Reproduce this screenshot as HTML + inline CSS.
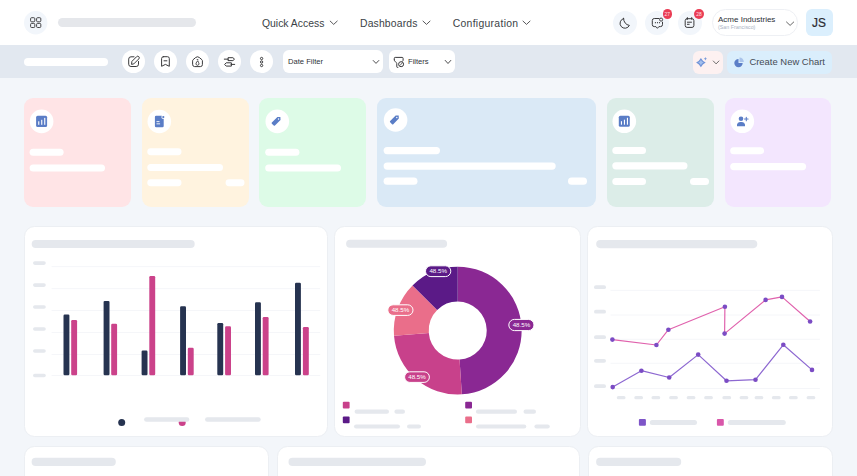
<!DOCTYPE html>
<html><head><meta charset="utf-8">
<style>
*{margin:0;padding:0;box-sizing:border-box}
html,body{width:857px;height:476px;overflow:hidden;background:#f3f6fa;font-family:"Liberation Sans",sans-serif}
.a{position:absolute}
.hdr{left:0;top:0;width:857px;height:45px;background:#fff}
.tb{left:0;top:45px;width:857px;height:33px;background:#e2e8f0}
.pill{position:absolute;border-radius:10px}
.g{background:#e5e7eb}
.w{background:#fff}
.circ{position:absolute;border-radius:50%}
.nav{position:absolute;top:16.8px;font-size:10.4px;color:#3b3f46;white-space:nowrap;line-height:14px}
.card{position:absolute;top:97.5px;height:109.5px;border-radius:9px}
.ccard{position:absolute;background:#fff;border:1px solid #eceff3;border-radius:10.5px}
svg.ov{position:absolute;left:0;top:0}
</style></head><body>
<div class="a hdr"></div>
<div class="a tb"></div>

<!-- header -->
<div class="pill g" style="left:58px;top:18px;width:138px;height:8.5px"></div>
<div class="nav" style="left:262px">Quick Access</div>
<div class="nav" style="left:360px;letter-spacing:0.15px">Dashboards</div>
<div class="nav" style="left:452.7px;letter-spacing:0.3px">Configuration</div>

<div class="circ" style="left:613px;top:10.5px;width:24px;height:24px;background:#f2f6fb"></div>
<div class="circ" style="left:645px;top:10.5px;width:24px;height:24px;background:#f2f6fb"></div>
<div class="circ" style="left:677.5px;top:10.5px;width:24px;height:24px;background:#f2f6fb"></div>
<div class="circ" style="left:662.6px;top:9.2px;width:9.6px;height:9.6px;background:#ea3d55"></div>
<div class="circ" style="left:694px;top:9.2px;width:9.8px;height:9.8px;background:#ea3d55"></div>

<div class="a" style="left:712px;top:9px;width:86px;height:27px;border:1px solid #eef0f4;border-radius:14px;background:#fff"></div>
<div class="a" style="left:718px;top:14.7px;font-size:8.0px;color:#2a2e35;white-space:nowrap;line-height:10px">Acme Industries</div>
<div class="a" style="left:718px;top:23.5px;font-size:5.3px;color:#a9b3c4;white-space:nowrap;line-height:7px">(San Francisco)</div>
<div class="a" style="left:805.5px;top:9px;width:27px;height:27px;background:#dbeffd;border-radius:6px"></div>
<div class="a" style="left:805.5px;top:16.3px;width:27px;text-align:center;font-size:11.9px;font-weight:normal;color:#2a2a30;-webkit-text-stroke:0.2px #2a2a30;line-height:15px">JS</div>

<!-- toolbar -->
<div class="pill w" style="left:24px;top:58.3px;width:83.5px;height:7.3px"></div>
<div class="circ w" style="left:122.3px;top:50.2px;width:23px;height:23px"></div>
<div class="circ w" style="left:154.0px;top:50.2px;width:23px;height:23px"></div>
<div class="circ w" style="left:186.1px;top:50.2px;width:23px;height:23px"></div>
<div class="circ w" style="left:218.1px;top:50.2px;width:23px;height:23px"></div>
<div class="circ w" style="left:250.3px;top:50.2px;width:23px;height:23px"></div>

<div class="a" style="left:283.4px;top:50px;width:99.6px;height:23.4px;background:#fff;border-radius:6px"></div>
<div class="a" style="left:288px;top:57px;font-size:7.6px;color:#2e3238;white-space:nowrap;line-height:9px">Date Filter</div>
<div class="a" style="left:389.2px;top:50px;width:65.4px;height:23.4px;background:#fff;border-radius:6px"></div>
<div class="a" style="left:408px;top:57px;font-size:7.6px;color:#2e3238;white-space:nowrap;line-height:9px">Filters</div>

<div class="a" style="left:692.5px;top:50.6px;width:30.5px;height:23px;background:#fdf1f1;border-radius:6px"></div>
<div class="a" style="left:727px;top:50.6px;width:105px;height:23px;background:#daeefc;border-radius:6px"></div>
<div class="a" style="left:749.4px;top:56.2px;font-size:9.45px;color:#454b55;white-space:nowrap;line-height:12px">Create New Chart</div>

<!-- KPI cards -->
<div class="card" style="left:24px;width:107.2px;background:#ffe4e6"></div>
<div class="card" style="left:141.8px;width:107px;background:#fff3df"></div>
<div class="card" style="left:258.9px;width:107.3px;background:#ddfbe7"></div>
<div class="card" style="left:377.1px;width:218.7px;background:#dae9f6"></div>
<div class="card" style="left:607px;width:106.9px;background:#dcede8"></div>
<div class="card" style="left:724.7px;width:106.8px;background:#f3e6fe"></div>

<!-- chart cards -->
<div class="ccard" style="left:24px;top:226px;width:304.4px;height:211px"></div>
<div class="ccard" style="left:334.3px;top:226px;width:246.6px;height:211px"></div>
<div class="ccard" style="left:587.4px;top:226px;width:245.6px;height:211px"></div>
<div class="ccard" style="left:24px;top:446px;width:245.3px;height:60px"></div>
<div class="ccard" style="left:276.5px;top:446px;width:303.9px;height:60px"></div>
<div class="ccard" style="left:588px;top:446px;width:245px;height:60px"></div>

<svg class="ov" width="857" height="476" viewBox="0 0 857 476">
<circle cx="41.60" cy="121.40" r="11.80" fill="#ffffff"/>
<rect x="29.60" y="148.80" width="34.00" height="7.00" rx="3.50" fill="#ffffff"/>
<rect x="29.60" y="164.40" width="75.40" height="7.10" rx="3.55" fill="#ffffff"/>
<circle cx="159.30" cy="121.50" r="11.80" fill="#ffffff"/>
<rect x="147.30" y="148.30" width="34.20" height="6.90" rx="3.45" fill="#ffffff"/>
<rect x="147.30" y="164.00" width="75.70" height="7.00" rx="3.50" fill="#ffffff"/>
<rect x="147.30" y="179.30" width="34.20" height="6.90" rx="3.45" fill="#ffffff"/>
<rect x="225.60" y="179.30" width="18.90" height="6.90" rx="3.45" fill="#ffffff"/>
<circle cx="277.30" cy="121.40" r="11.80" fill="#ffffff"/>
<rect x="265.20" y="148.80" width="34.20" height="7.00" rx="3.50" fill="#ffffff"/>
<rect x="265.20" y="164.40" width="75.80" height="7.10" rx="3.55" fill="#ffffff"/>
<circle cx="395.60" cy="120.00" r="11.80" fill="#ffffff"/>
<rect x="383.60" y="146.90" width="56.40" height="7.30" rx="3.65" fill="#ffffff"/>
<rect x="383.60" y="162.40" width="172.10" height="7.30" rx="3.65" fill="#ffffff"/>
<rect x="383.60" y="177.60" width="33.90" height="7.20" rx="3.60" fill="#ffffff"/>
<rect x="568.00" y="177.60" width="19.00" height="7.20" rx="3.60" fill="#ffffff"/>
<circle cx="624.30" cy="121.30" r="11.80" fill="#ffffff"/>
<rect x="612.30" y="147.00" width="33.70" height="7.00" rx="3.50" fill="#ffffff"/>
<rect x="612.30" y="162.20" width="75.20" height="7.20" rx="3.60" fill="#ffffff"/>
<rect x="612.30" y="178.00" width="33.70" height="7.00" rx="3.50" fill="#ffffff"/>
<rect x="690.00" y="178.00" width="19.00" height="7.00" rx="3.50" fill="#ffffff"/>
<circle cx="742.30" cy="121.30" r="11.80" fill="#ffffff"/>
<rect x="730.20" y="147.20" width="33.90" height="7.10" rx="3.55" fill="#ffffff"/>
<rect x="730.20" y="163.00" width="75.90" height="7.20" rx="3.60" fill="#ffffff"/>
<rect x="31.70" y="240.00" width="163.00" height="8.00" rx="4.00" fill="#e5e8ed"/>
<line x1="51.6" x2="320.2" y1="266.6" y2="266.6" stroke="#f2f4f7" stroke-width="0.8"/>
<rect x="33.00" y="261.30" width="12.80" height="3.60" rx="1.80" fill="#e5e8ed"/>
<line x1="51.6" x2="320.2" y1="288.6" y2="288.6" stroke="#f2f4f7" stroke-width="0.8"/>
<rect x="33.00" y="283.30" width="12.80" height="3.60" rx="1.80" fill="#e5e8ed"/>
<line x1="51.6" x2="320.2" y1="310.5" y2="310.5" stroke="#f2f4f7" stroke-width="0.8"/>
<rect x="33.00" y="305.20" width="12.80" height="3.60" rx="1.80" fill="#e5e8ed"/>
<line x1="51.6" x2="320.2" y1="332.5" y2="332.5" stroke="#f2f4f7" stroke-width="0.8"/>
<rect x="33.00" y="327.20" width="12.80" height="3.60" rx="1.80" fill="#e5e8ed"/>
<line x1="51.6" x2="320.2" y1="354.5" y2="354.5" stroke="#f2f4f7" stroke-width="0.8"/>
<rect x="33.00" y="349.20" width="12.80" height="3.60" rx="1.80" fill="#e5e8ed"/>
<line x1="51.6" x2="320.2" y1="375.5" y2="375.5" stroke="#f2f4f7" stroke-width="0.8"/>
<rect x="33.00" y="373.70" width="12.80" height="3.60" rx="1.80" fill="#e5e8ed"/>
<rect x="63.50" y="314.50" width="5.90" height="60.80" rx="1.20" fill="#263350"/>
<rect x="71.20" y="320.00" width="5.90" height="55.30" rx="1.20" fill="#cb428a"/>
<rect x="103.60" y="300.90" width="5.90" height="74.40" rx="1.20" fill="#263350"/>
<rect x="111.20" y="323.80" width="5.90" height="51.50" rx="1.20" fill="#cb428a"/>
<rect x="141.60" y="350.60" width="5.90" height="24.70" rx="1.20" fill="#263350"/>
<rect x="149.30" y="276.00" width="5.90" height="99.30" rx="1.20" fill="#cb428a"/>
<rect x="180.10" y="306.30" width="5.90" height="69.00" rx="1.20" fill="#263350"/>
<rect x="187.80" y="347.80" width="5.90" height="27.50" rx="1.20" fill="#cb428a"/>
<rect x="217.30" y="323.00" width="5.90" height="52.30" rx="1.20" fill="#263350"/>
<rect x="225.10" y="326.30" width="5.90" height="49.00" rx="1.20" fill="#cb428a"/>
<rect x="255.00" y="302.20" width="5.90" height="73.10" rx="1.20" fill="#263350"/>
<rect x="262.70" y="317.00" width="5.90" height="58.30" rx="1.20" fill="#cb428a"/>
<rect x="295.00" y="282.80" width="5.90" height="92.50" rx="1.20" fill="#263350"/>
<rect x="302.90" y="327.10" width="5.90" height="48.20" rx="1.20" fill="#cb428a"/>
<circle cx="121.70" cy="422.40" r="3.50" fill="#263350"/>
<circle cx="182.20" cy="422.40" r="3.50" fill="#cb428a"/>
<rect x="144.10" y="417.20" width="45.20" height="4.50" rx="2.25" fill="#e5e8ed"/>
<rect x="205.00" y="417.20" width="55.70" height="4.50" rx="2.25" fill="#e5e8ed"/>
<rect x="346.10" y="239.80" width="101.00" height="8.00" rx="4.00" fill="#e5e8ed"/>
<path d="M457.70,266.70 A63.9,63.9 0 0 1 461.82,394.37 L459.57,359.54 A29,29 0 0 0 457.70,301.60 Z" fill="#8a2893"/>
<path d="M461.82,394.37 A63.9,63.9 0 0 1 394.01,335.72 L428.79,332.93 A29,29 0 0 0 459.57,359.54 Z" fill="#c8418b"/>
<path d="M394.01,335.72 A63.9,63.9 0 0 1 412.52,285.42 L437.19,310.09 A29,29 0 0 0 428.79,332.93 Z" fill="#ea6e8a"/>
<path d="M412.52,285.42 A63.9,63.9 0 0 1 457.70,266.70 L457.70,301.60 A29,29 0 0 0 437.19,310.09 Z" fill="#5b1a87"/>
<rect x="425.50" y="265.80" width="25.30" height="10.80" rx="5.40" fill="#5b1a87" stroke="#fff" stroke-width="1"/>
<text x="438.15" y="273.40" font-size="6.2" fill="#fff" text-anchor="middle" font-family="Liberation Sans, sans-serif">48.5%</text>
<rect x="387.80" y="304.80" width="25.20" height="10.60" rx="5.30" fill="#ea6e8a" stroke="#fff" stroke-width="1"/>
<text x="400.40" y="312.30" font-size="6.2" fill="#fff" text-anchor="middle" font-family="Liberation Sans, sans-serif">48.5%</text>
<rect x="508.80" y="319.40" width="25.20" height="11.20" rx="5.60" fill="#8a2893" stroke="#fff" stroke-width="1"/>
<text x="521.40" y="327.20" font-size="6.2" fill="#fff" text-anchor="middle" font-family="Liberation Sans, sans-serif">48.5%</text>
<rect x="404.60" y="371.80" width="24.80" height="10.60" rx="5.30" fill="#c8418b" stroke="#fff" stroke-width="1"/>
<text x="417.00" y="379.30" font-size="6.2" fill="#fff" text-anchor="middle" font-family="Liberation Sans, sans-serif">48.5%</text>
<rect x="342.80" y="401.80" width="6.80" height="6.70" rx="1.00" fill="#c8418b"/>
<rect x="354.60" y="409.60" width="34.40" height="4.20" rx="2.10" fill="#e5e8ed"/>
<rect x="394.40" y="409.60" width="10.60" height="4.20" rx="2.10" fill="#e5e8ed"/>
<rect x="465.20" y="401.80" width="6.80" height="6.70" rx="1.00" fill="#8a2893"/>
<rect x="475.90" y="409.60" width="41.10" height="4.20" rx="2.10" fill="#e5e8ed"/>
<rect x="523.50" y="409.60" width="12.50" height="4.20" rx="2.10" fill="#e5e8ed"/>
<rect x="342.80" y="416.60" width="6.80" height="6.70" rx="1.00" fill="#5b1a87"/>
<rect x="354.00" y="424.40" width="46.00" height="4.20" rx="2.10" fill="#e5e8ed"/>
<rect x="407.00" y="424.40" width="14.00" height="4.20" rx="2.10" fill="#e5e8ed"/>
<rect x="465.20" y="416.60" width="6.80" height="6.70" rx="1.00" fill="#ea6e8a"/>
<rect x="476.00" y="424.40" width="50.30" height="4.20" rx="2.10" fill="#e5e8ed"/>
<rect x="534.40" y="424.40" width="15.40" height="4.20" rx="2.10" fill="#e5e8ed"/>
<rect x="596.20" y="240.00" width="161.10" height="8.20" rx="4.10" fill="#e5e8ed"/>
<line x1="610.5" x2="819.9" y1="290.4" y2="290.4" stroke="#f2f4f7" stroke-width="0.8"/>
<rect x="594.00" y="285.30" width="12.00" height="3.80" rx="1.90" fill="#e5e8ed"/>
<line x1="610.5" x2="819.9" y1="315" y2="315" stroke="#f2f4f7" stroke-width="0.8"/>
<rect x="594.00" y="309.80" width="12.00" height="3.80" rx="1.90" fill="#e5e8ed"/>
<line x1="610.5" x2="819.9" y1="339.3" y2="339.3" stroke="#f2f4f7" stroke-width="0.8"/>
<rect x="594.00" y="335.30" width="12.00" height="3.80" rx="1.90" fill="#e5e8ed"/>
<line x1="610.5" x2="819.9" y1="363.3" y2="363.3" stroke="#f2f4f7" stroke-width="0.8"/>
<rect x="594.00" y="358.90" width="12.00" height="3.80" rx="1.90" fill="#e5e8ed"/>
<line x1="610.5" x2="819.9" y1="388.5" y2="388.5" stroke="#f2f4f7" stroke-width="0.8"/>
<rect x="594.00" y="384.30" width="12.00" height="3.80" rx="1.90" fill="#e5e8ed"/>
<rect x="616.80" y="396.00" width="8.70" height="3.20" rx="1.50" fill="#e5e8ed"/>
<rect x="634.30" y="396.00" width="8.70" height="3.20" rx="1.50" fill="#e5e8ed"/>
<rect x="651.50" y="396.00" width="8.70" height="3.20" rx="1.50" fill="#e5e8ed"/>
<rect x="669.20" y="396.00" width="8.70" height="3.20" rx="1.50" fill="#e5e8ed"/>
<rect x="686.70" y="396.00" width="8.70" height="3.20" rx="1.50" fill="#e5e8ed"/>
<rect x="704.20" y="396.00" width="8.70" height="3.20" rx="1.50" fill="#e5e8ed"/>
<rect x="722.40" y="396.00" width="8.70" height="3.20" rx="1.50" fill="#e5e8ed"/>
<rect x="739.60" y="396.00" width="8.70" height="3.20" rx="1.50" fill="#e5e8ed"/>
<rect x="754.60" y="396.00" width="8.70" height="3.20" rx="1.50" fill="#e5e8ed"/>
<rect x="771.90" y="396.00" width="8.70" height="3.20" rx="1.50" fill="#e5e8ed"/>
<rect x="789.00" y="396.00" width="8.70" height="3.20" rx="1.50" fill="#e5e8ed"/>
<rect x="806.60" y="396.00" width="8.70" height="3.20" rx="1.50" fill="#e5e8ed"/>
<polyline points="612.4,339.6 656.4,345.0 668.4,329.7 724.9,306.8 724.6,333.6 765.6,299.9 782.0,296.9 810.1,321.5" fill="none" stroke="#e062ad" stroke-width="1.2" stroke-linejoin="round"/>
<polyline points="612.7,387.1 641.4,370.7 669.2,377.5 698.2,354.6 726.5,380.8 755.5,379.7 783.3,344.8 812.0,369.9" fill="none" stroke="#8d68d1" stroke-width="1.2" stroke-linejoin="round"/>
<circle cx="612.40" cy="339.60" r="2.30" fill="#7b4cc4"/>
<circle cx="656.40" cy="345.00" r="2.30" fill="#7b4cc4"/>
<circle cx="668.40" cy="329.70" r="2.30" fill="#7b4cc4"/>
<circle cx="724.90" cy="306.80" r="2.30" fill="#7b4cc4"/>
<circle cx="724.60" cy="333.60" r="2.30" fill="#7b4cc4"/>
<circle cx="765.60" cy="299.90" r="2.30" fill="#7b4cc4"/>
<circle cx="782.00" cy="296.90" r="2.30" fill="#7b4cc4"/>
<circle cx="810.10" cy="321.50" r="2.30" fill="#7b4cc4"/>
<circle cx="612.70" cy="387.10" r="2.30" fill="#7b4cc4"/>
<circle cx="641.40" cy="370.70" r="2.30" fill="#7b4cc4"/>
<circle cx="669.20" cy="377.50" r="2.30" fill="#7b4cc4"/>
<circle cx="698.20" cy="354.60" r="2.30" fill="#7b4cc4"/>
<circle cx="726.50" cy="380.80" r="2.30" fill="#7b4cc4"/>
<circle cx="755.50" cy="379.70" r="2.30" fill="#7b4cc4"/>
<circle cx="783.30" cy="344.80" r="2.30" fill="#7b4cc4"/>
<circle cx="812.00" cy="369.90" r="2.30" fill="#7b4cc4"/>
<rect x="638.90" y="418.90" width="7.00" height="6.90" rx="1.00" fill="#7e55c8"/>
<rect x="649.80" y="419.90" width="47.20" height="5.00" rx="2.50" fill="#e5e8ed"/>
<rect x="716.90" y="418.90" width="6.90" height="6.90" rx="1.00" fill="#d957aa"/>
<rect x="727.80" y="419.90" width="58.00" height="5.00" rx="2.50" fill="#e5e8ed"/>
<rect x="31.60" y="457.80" width="84.20" height="8.20" rx="4.10" fill="#e5e8ed"/>
<rect x="288.50" y="457.80" width="137.50" height="8.20" rx="4.10" fill="#e5e8ed"/>
<rect x="596.10" y="457.80" width="85.10" height="8.20" rx="4.10" fill="#e5e8ed"/>
<circle cx="35.7" cy="22.7" r="11.7" fill="#f2f6fb"/>
<rect x="30.6" y="17.7" width="4.2" height="4.1" rx="1" fill="none" stroke="#444446" stroke-width="1"/>
<rect x="36.6" y="17.7" width="4.2" height="4.1" rx="1" fill="none" stroke="#444446" stroke-width="1"/>
<rect x="30.6" y="23.4" width="4.2" height="4.1" rx="1" fill="none" stroke="#444446" stroke-width="1"/>
<rect x="36.6" y="23.4" width="4.2" height="4.1" rx="1" fill="none" stroke="#444446" stroke-width="1"/>
<path d="M623.6,18.5 A4.95,4.95 0 1 0 629.4,25.4 A6.6,6.6 0 0 1 623.6,18.5 Z" fill="none" stroke="#3a3a3c" stroke-width="1" stroke-linecap="round" stroke-linejoin="round"/>
<path d="M659,18.5 H654.3 A2,2 0 0 0 652.3,20.5 V24.6 A2,2 0 0 0 654.3,26.6 H655.9 L657.4,28.3 L658.9,26.6 H660.5 A2,2 0 0 0 662.5,24.6 V22.2" fill="none" stroke="#3a3a3c" stroke-width="1" stroke-linecap="round" stroke-linejoin="round"/>
<circle cx="661.1" cy="19.6" r="1.55" fill="none" stroke="#3a3a3c" stroke-width="0.95"/>
<circle cx="655.4" cy="22.7" r="0.6" fill="#3a3a3c"/>
<circle cx="657.5" cy="22.7" r="0.6" fill="#3a3a3c"/>
<circle cx="659.5" cy="22.7" r="0.6" fill="#3a3a3c"/>
<path d="M687.1,18.7 H692 A1.9,1.9 0 0 1 693.9,20.6 V25.5 A1.9,1.9 0 0 1 692,27.4 H687.1 A1.9,1.9 0 0 1 685.2,25.5 V20.6 A1.9,1.9 0 0 1 687.1,18.7 Z" fill="none" stroke="#3a3a3c" stroke-width="1" stroke-linecap="round" stroke-linejoin="round"/>
<path d="M687.4,17.6 V19.3 M691.7,17.6 V19.3 M687.4,22.2 H691.5 M687.4,24.3 H689.2" fill="none" stroke="#3a3a3c" stroke-width="1" stroke-linecap="round" stroke-linejoin="round"/>
<text x="667.3" y="15.7" font-size="4.9" fill="#ffe4e8" text-anchor="middle" font-family="Liberation Sans, sans-serif">27</text>
<text x="698.9" y="15.8" font-size="4.9" fill="#ffe4e8" text-anchor="middle" font-family="Liberation Sans, sans-serif">28</text>
<path d="M330.2,21.1 L333.7,24.4 L337.2,21.1" fill="none" stroke="#3a3a3c" stroke-width="0.85" stroke-linecap="round" stroke-linejoin="round"/>
<path d="M423.0,21.1 L426.5,24.4 L430.0,21.1" fill="none" stroke="#3a3a3c" stroke-width="0.85" stroke-linecap="round" stroke-linejoin="round"/>
<path d="M523.0,21.1 L526.5,24.4 L530.0,21.1" fill="none" stroke="#3a3a3c" stroke-width="0.85" stroke-linecap="round" stroke-linejoin="round"/>
<path d="M786.5,22 L790.1,25.4 L793.7,22" fill="none" stroke="#555" stroke-width="0.9" stroke-linecap="round" stroke-linejoin="round"/>
<path d="M134,56.8 H131 A2.3,2.3 0 0 0 128.7,59.1 V64.2 A2.3,2.3 0 0 0 131,66.5 H136.2 A2.3,2.3 0 0 0 138.5,64.2 V61.5" fill="none" stroke="#3a3a3c" stroke-width="1" stroke-linecap="round" stroke-linejoin="round"/>
<path d="M131.6,64 L131.9,61.4 L136.6,56.7 A1.5,1.5 0 0 1 138.8,58.9 L134.1,63.6 Z" fill="none" stroke="#3a3a3c" stroke-width="1" stroke-linecap="round" stroke-linejoin="round"/>
<path d="M163.3,56.7 H167.5 A1.8,1.8 0 0 1 169.3,58.5 V66.3 L165.4,64.4 L161.6,66.3 V58.5 A1.8,1.8 0 0 1 163.3,56.7 Z" fill="none" stroke="#3a3a3c" stroke-width="1" stroke-linecap="round" stroke-linejoin="round"/>
<path d="M164,60.8 H166.9" fill="none" stroke="#3a3a3c" stroke-width="1" stroke-linecap="round" stroke-linejoin="round"/>
<path d="M192.6,60.7 Q192.6,60.1 193.1,59.7 L195.7,57.5 Q197.5,56 199.3,57.5 L201.9,59.7 Q202.4,60.1 202.4,60.7 V64.6 A2,2 0 0 1 200.4,66.6 H194.6 A2,2 0 0 1 192.6,64.6 Z" fill="none" stroke="#3a3a3c" stroke-width="1" stroke-linecap="round" stroke-linejoin="round"/>
<path d="M197.5,61 L196.2,62.9 A1.55,1.55 0 1 0 198.8,62.9 Z" fill="none" stroke="#3a3a3c" stroke-width="0.9" stroke-linecap="round" stroke-linejoin="round"/>
<path d="M197.1,59.5 H197.9" fill="none" stroke="#3a3a3c" stroke-width="0.8" stroke-linecap="round" stroke-linejoin="round"/>
<path d="M224.3,59.15 H228.4 M231,64.4 H234.7" fill="none" stroke="#3a3a3c" stroke-width="1" stroke-linecap="round" stroke-linejoin="round"/>
<path d="M228.4,57.7 H232.9 L234.5,59.15 L232.9,60.6 H228.4 Z" fill="none" stroke="#3a3a3c" stroke-width="1" stroke-linecap="round" stroke-linejoin="round"/>
<path d="M231,62.8 H226.2 L224.6,64.4 L226.2,66.1 H231 Z" fill="none" stroke="#3a3a3c" stroke-width="1" stroke-linecap="round" stroke-linejoin="round"/>
<circle cx="261.6" cy="58.5" r="1.15" fill="none" stroke="#3a3a3c" stroke-width="1"/>
<circle cx="261.6" cy="62" r="1.15" fill="none" stroke="#3a3a3c" stroke-width="1"/>
<circle cx="261.6" cy="65.5" r="1.15" fill="none" stroke="#3a3a3c" stroke-width="1"/>
<path d="M373.2,60.5 L376,63.4 L378.8,60.5" fill="none" stroke="#3a3a3c" stroke-width="0.9" stroke-linecap="round" stroke-linejoin="round"/>
<path d="M445.2,60.4 L448,63.5 L450.8,60.4" fill="none" stroke="#3a3a3c" stroke-width="0.9" stroke-linecap="round" stroke-linejoin="round"/>
<path d="M394.3,59.9 V58.3 A0.9,0.9 0 0 1 395.2,57.4 H402.2 A0.9,0.9 0 0 1 403.1,58.3 V60.4 L402.2,61.4" fill="none" stroke="#3a3a3c" stroke-width="1" stroke-linecap="round" stroke-linejoin="round"/>
<path d="M394.3,59.9 Q394.3,60.6 394.9,61.2 L396.3,62.6 Q396.8,63.1 396.8,63.8 V66.8 Q396.8,67.4 397.4,67.4 H397.9" fill="none" stroke="#3a3a3c" stroke-width="1" stroke-linecap="round" stroke-linejoin="round"/>
<circle cx="401.1" cy="64.2" r="2.5" fill="#fff" stroke="#3a3a3c" stroke-width="1"/>
<path d="M400.1,65.3 L402.2,63" fill="none" stroke="#3a3a3c" stroke-width="0.8" stroke-linecap="round" stroke-linejoin="round"/>
<path d="M713.3,61 L716.1,63.9 L718.9,61" fill="none" stroke="#555" stroke-width="0.85" stroke-linecap="round" stroke-linejoin="round"/>
<path d="M700.9,57.9 Q702.5,61 705.7,62.6 Q702.5,64.2 700.9,67.3 Q699.3,64.2 696.1,62.6 Q699.3,61 700.9,57.9 Z" fill="#7093d8"/>
<path d="M700.9,60 Q701.7,61.8 703.6,62.6 Q701.7,63.4 700.9,65.2 Q700.1,63.4 698.2,62.6 Q700.1,61.8 700.9,60 Z" fill="#a4bfec"/>
<path d="M705.4,57 Q705.7,58.5 707.1,58.75 Q705.7,59 705.4,60.5 Q705.1,59 703.7,58.75 Q705.1,58.5 705.4,57 Z" fill="#7a9bd9"/>
<path d="M738.5,58.9 A4.2,4.2 0 1 0 742.7,63.1 H738.5 Z" fill="#5b7ec7"/>
<path d="M739.5,57.6 A4.3,4.3 0 0 1 743.8,61.9 H739.5 Z" fill="#a9c3ea"/>
<rect x="36.1" y="115.80000000000001" width="11" height="11.1" rx="1.5" fill="#5a7dc6"/>
<rect x="38.2" y="121.30000000000001" width="1.1" height="3.5" fill="#fff"/>
<rect x="41.2" y="119.80000000000001" width="1.1" height="5.0" fill="#fff"/>
<rect x="44.2" y="117.9" width="1.1" height="6.9" fill="#fff"/>
<rect x="618.8" y="115.7" width="11" height="11.1" rx="1.5" fill="#5a7dc6"/>
<rect x="620.9" y="121.2" width="1.1" height="3.5" fill="#fff"/>
<rect x="623.9" y="119.7" width="1.1" height="5.0" fill="#fff"/>
<rect x="626.9" y="117.8" width="1.1" height="6.9" fill="#fff"/>
<path d="M156.1,115.7 H161.70000000000002 L163.70000000000002,118.3 V126.0 A1.2,1.2 0 0 1 162.5,127.2 H156.1 A1.2,1.2 0 0 1 154.9,126.0 V116.9 A1.2,1.2 0 0 1 156.1,115.7 Z" fill="#5a7dc6"/>
<circle cx="163.3" cy="117.10000000000001" r="1.9" fill="#fff"/>
<circle cx="163.3" cy="117.10000000000001" r="1.1" fill="#5a7dc6"/>
<rect x="156.5" y="121.2" width="3" height="0.9" fill="#fff"/>
<rect x="156.5" y="123.4" width="3.6" height="0.9" fill="#fff"/>
<g transform="translate(276.9,120.5) rotate(-45) scale(0.88)"><path d="M-5.6,-2.5 H3.3 L5.6,0 L3.3,2.5 H-5.6 A1,1 0 0 1 -6.6,1.5 V-1.5 A1,1 0 0 1 -5.6,-2.5 Z" fill="#5a7dc6"/><circle cx="2.6" cy="0" r="0.8" fill="#fff"/></g>
<g transform="translate(395.2,119.1) rotate(-45) scale(0.88)"><path d="M-5.6,-2.5 H3.3 L5.6,0 L3.3,2.5 H-5.6 A1,1 0 0 1 -6.6,1.5 V-1.5 A1,1 0 0 1 -5.6,-2.5 Z" fill="#5a7dc6"/><circle cx="2.6" cy="0" r="0.8" fill="#fff"/></g>
<circle cx="741.0" cy="118.7" r="2.3" fill="#5a7dc6"/>
<path d="M737.0,126.2 V124.6 A3,3 0 0 1 740.0,122.1 H742.0 A3,3 0 0 1 745.0,124.6 V126.2 Z" fill="#5a7dc6"/>
<path d="M744.5,119.0 H748.0999999999999 M746.3,117.3 V120.7" stroke="#5a7dc6" stroke-width="1.1" stroke-linecap="round"/>
</svg>
</body></html>
